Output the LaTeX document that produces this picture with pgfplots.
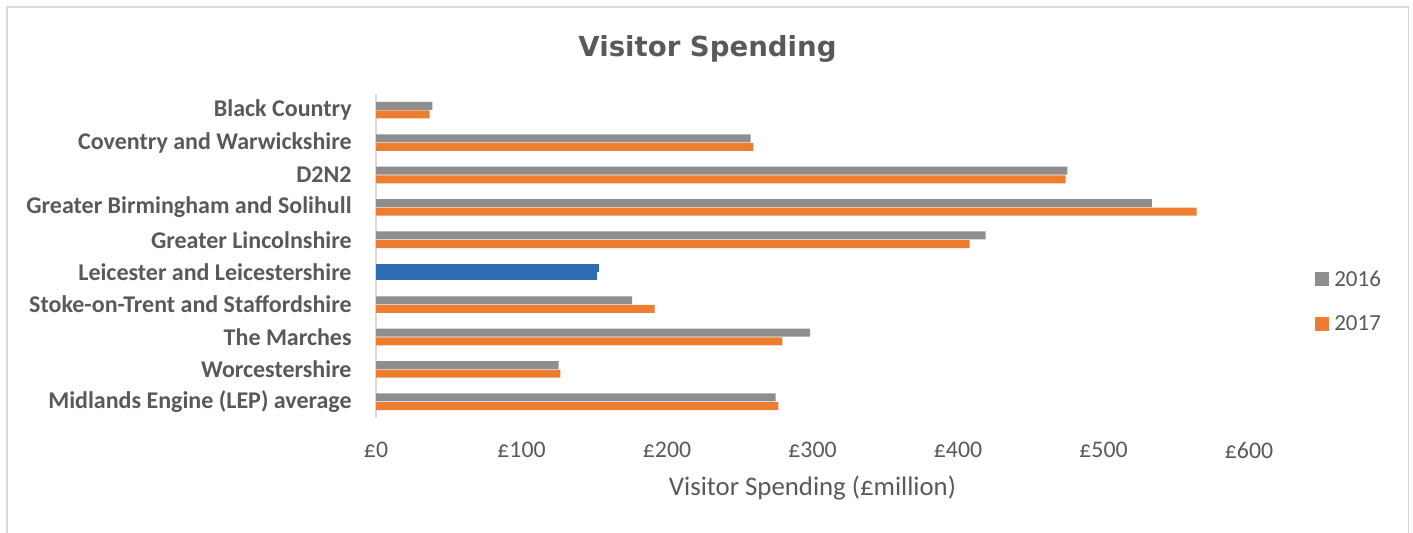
\documentclass[border=0pt]{standalone}
\usepackage{fontspec}
\setmainfont{Carlito}
\newfontfamily\titlefont{DejaVu Sans}
\usepackage{pgfplots}
\pgfplotsset{compat=1.18}
\usepackage{pgfplotstable}
\definecolor{txtgray}{HTML}{595959}
\definecolor{bargray}{HTML}{8E8E8E}
\definecolor{barorange}{HTML}{ED7D31}
\definecolor{barblue}{HTML}{2E6DB4}
\definecolor{framegray}{HTML}{D9D9D9}

\pgfplotstableread{
y v16 v17
9 38.7 36.9
8 257.5 259.3
7 475.2 474.0
6 533.3 564.0
5 419.0 408.0
3 176.0 191.5
2 298.3 279.3
1 125.5 126.7
0 274.7 276.5
}\datatable

\begin{document}
\begin{tikzpicture}
\useasboundingbox (0,0) rectangle (706.5pt,-266.5pt);
\draw[framegray, line width=0.75pt] (3.4pt,-280pt) -- (3.4pt,-3.4pt) -- (704.2pt,-3.4pt) -- (704.2pt,-280pt);
\node[anchor=base, text=txtgray, font=\titlefont\bfseries\fontsize{13.8}{16}\selectfont] at (353.75pt,-28.35pt) {Visitor Spending};
\begin{axis}[
  at={(188pt,-209pt)}, anchor=south west,
  width=436.5pt, height=162pt, scale only axis,
  xmin=0, xmax=600, ymin=-0.5, ymax=9.5,
  axis lines*=left,
  x axis line style={draw=none},
  y axis line style={draw=framegray, line width=0.75pt},
  major tick length=0pt,
  xtick={0,100,200,300,400,500,600},
  xticklabels={£0,£100,£200,£300,£400,£500,£600},
  ytick={0,1,2,3,4,5,6,7,8,9},
  yticklabels={Midlands Engine (LEP) average, Worcestershire, The Marches, Stoke-on-Trent and Staffordshire, Leicester and Leicestershire, Greater Lincolnshire, Greater Birmingham and Solihull, D2N2, Coventry and Warwickshire, Black Country},
  xticklabel style={anchor=north, inner sep=0pt, yshift=-12pt, text=txtgray, font=\fontsize{11.9}{14}\selectfont},
  yticklabel style={anchor=east, inner sep=0pt, xshift=-12pt, text=txtgray, font=\bfseries\fontsize{12}{14}\selectfont},
  xlabel={Visitor Spending (£million)},
  xlabel style={at={(axis description cs:0.5,0)}, anchor=base, inner sep=0pt, yshift=-38.75pt, text=txtgray, font=\fontsize{13.4}{16}\selectfont},
  legend style={at={(1.0756,0.455)}, anchor=north west, draw=none, fill=none, inner sep=0pt, outer sep=0pt, row sep=13.3pt,
    nodes={inner sep=0pt, text=txtgray, font=\fontsize{11.5}{13}\selectfont},
    /tikz/every odd column/.append style={column sep=2.65pt}},
  legend cell align=left,
]
\addplot[xbar, bar width=4pt, bar shift=2.15pt, fill=bargray, draw=none,
  legend image code/.code={\fill[bargray] (0pt,-3pt) rectangle (7pt,4pt);}]
  table[x=v16, y=y] {\datatable};
\addlegendentry{2016}
\addplot[xbar, bar width=4pt, bar shift=-2.15pt, fill=barorange, draw=none,
  legend image code/.code={\fill[barorange] (0pt,-3pt) rectangle (7pt,4pt);}]
  table[x=v17, y=y] {\datatable};
\addlegendentry{2017}
\addplot[xbar, bar width=4pt, bar shift=2.15pt, fill=barblue, draw=none, forget plot]
  coordinates {(153.0,4)};
\addplot[xbar, bar width=4pt, bar shift=-2.15pt, fill=barblue, draw=none, forget plot]
  coordinates {(151.7,4)};
\end{axis}
\end{tikzpicture}
\end{document}
